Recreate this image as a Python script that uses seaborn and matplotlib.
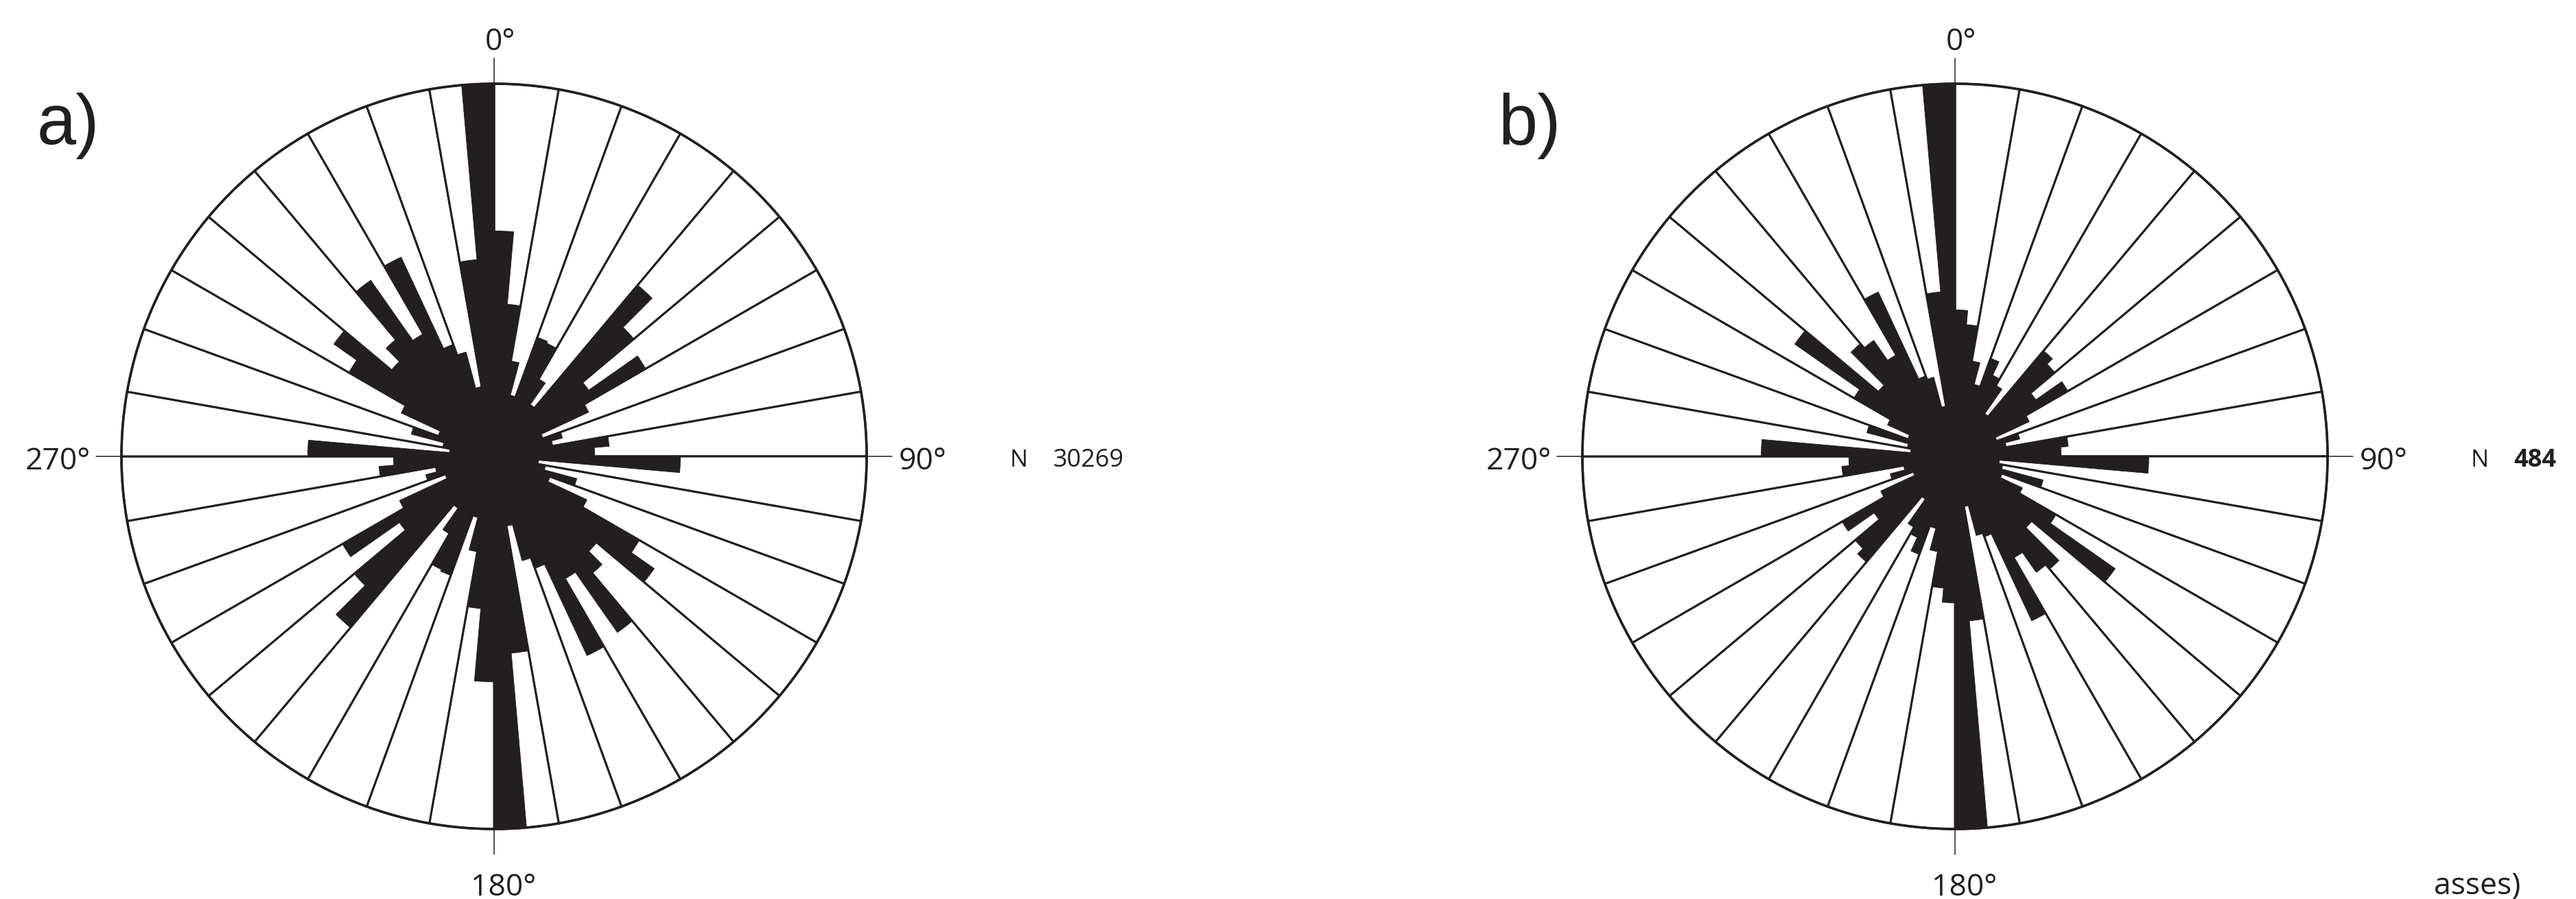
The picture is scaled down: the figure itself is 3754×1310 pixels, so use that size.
import numpy as np
import matplotlib
matplotlib.use("Agg")
import matplotlib.pyplot as plt
import seaborn as sns

sns.set_theme(style="white")
plt.rcParams['font.family'] = ['Open Sans', 'DejaVu Sans']

# 5 degree bins, clockwise from north; data are axial so 180-360 repeats 0-180
bin_start = np.arange(0, 180, 5)
# outline sectors of the diagram, 10 degrees each
sector_start = np.arange(0, 360, 10)

# petal length as a fraction of the outer circle
rose_a = [0.605, 0.41, 0.26, 0.17, 0.34, 0.335, 0.24, 0.17, 0.60, 0.49,
          0.31, 0.47, 0.28, 0.14, 0.19, 0.16, 0.31, 0.27, 0.50, 0.12,
          0.14, 0.23, 0.16, 0.275, 0.45, 0.525, 0.36, 0.41, 0.577, 0.38,
          0.59, 0.32, 0.29, 0.19, 0.53, 1.00]
rose_b = [0.393, 0.355, 0.26, 0.20, 0.28, 0.24, 0.22, 0.14, 0.37, 0.35,
          0.265, 0.35, 0.22, 0.12, 0.18, 0.14, 0.305, 0.285, 0.52, 0.12,
          0.13, 0.245, 0.135, 0.20, 0.313, 0.525, 0.27, 0.395, 0.38, 0.315,
          0.487, 0.23, 0.22, 0.137, 0.443, 1.00]

panel_labels = ['a)', 'b)']
n_counts = ['30269', '484']
axis_labels = ['0°', '90°', '180°', '270°']

INK = '#231f20'
W, H = 3754, 1310
R = 543
centers = [(720, 665), (2849, 665)]

fig = plt.figure(figsize=(W / 100, H / 100), dpi=100)
fig.patch.set_facecolor('white')
# overlay in pixel coordinates for the axis lines and the text
ov = fig.add_axes([0, 0, 1, 1])
ov.set_xlim(0, W)
ov.set_ylim(H, 0)
ov.axis('off')


def draw_rose(cx, cy, vals, label, count, bold_count):
    # cross lines running past the circle
    ov.plot([cx, cx], [cy - R - 37, cy + R + 37], color=INK, lw=1.1)
    ov.plot([cx - R - 37, cx + R + 37], [cy, cy], color=INK, lw=1.1)

    ax = fig.add_axes([(cx - R) / W, (H - cy - R) / H, 2 * R / W, 2 * R / H],
                      projection='polar')
    ax.set_theta_zero_location('N')
    ax.set_theta_direction(-1)
    ax.set_ylim(0, 1)
    ax.set_axis_off()
    ax.patch.set_alpha(0)

    # white outline sectors
    ax.bar(np.deg2rad(sector_start), np.ones(len(sector_start)),
           width=np.deg2rad(10), align='edge', color='white',
           edgecolor=INK, linewidth=2.2, zorder=1, clip_on=False)
    # black petals
    full = np.concatenate([vals, vals])
    theta = np.deg2rad(np.concatenate([bin_start, bin_start + 180]))
    ax.bar(theta, full, width=np.deg2rad(5), align='edge', color=INK,
           edgecolor=INK, linewidth=0.6, zorder=2, clip_on=False)
    # outer ring a little heavier than the sector lines
    ring = np.linspace(0, 2 * np.pi, 400)
    ax.plot(ring, np.ones_like(ring), color=INK, lw=2.6, zorder=3, clip_on=False)

    fs = 32
    ov.text(cx + 9, 73, axis_labels[0], ha='center', va='baseline', fontsize=fs, color=INK)
    ov.text(cx + 590, cy + 19, axis_labels[1], ha='left', va='baseline', fontsize=fs, color=INK)
    ov.text(cx + 14, 1305, axis_labels[2], ha='center', va='baseline', fontsize=fs, color=INK)
    ov.text(cx - 588, cy + 19, axis_labels[3], ha='right', va='baseline', fontsize=fs, color=INK)

    ov.text(cx - 666, 210, label, ha='left', va='baseline', fontsize=74,
            family=['Liberation Sans', 'DejaVu Sans'], color=INK)
    ov.text(cx + 752, cy + 15, 'N', ha='left', va='baseline', fontsize=25, color=INK)
    ov.text(cx + 814, cy + 15, count, ha='left', va='baseline', fontsize=26,
            fontweight='bold' if bold_count else 'normal', color=INK)


for i, (cx, cy) in enumerate(centers):
    vals = rose_a if i == 0 else rose_b
    draw_rose(cx, cy, np.array(vals), panel_labels[i], n_counts[i], i == 1)

ov.text(3547, 1303, 'asses)', ha='left', va='baseline', fontsize=32, color=INK)

fig.savefig('out.png', dpi=100, facecolor='white')
